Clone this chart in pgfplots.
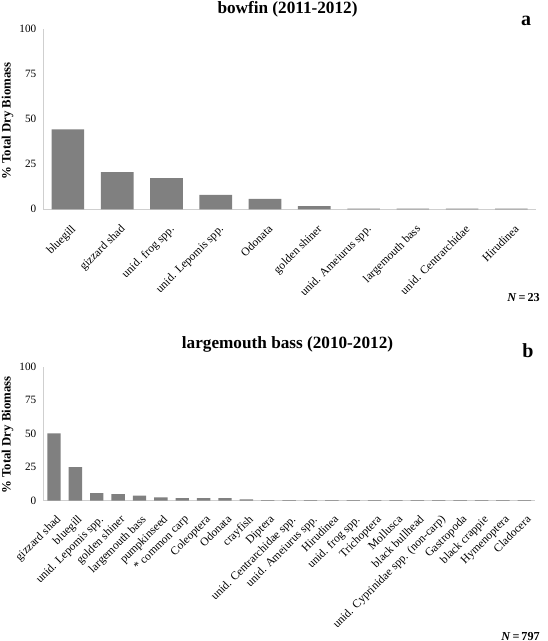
\documentclass[border=0pt]{standalone}
\usepackage{pgfplots}
\pgfplotsset{compat=1.18}
\usepackage{fontspec}
\setmainfont{Liberation Serif}
\definecolor{barg}{HTML}{808080}
\definecolor{axg}{HTML}{CFCFCF}
\pgfplotsset{
  mystyle/.style={
    scale only axis,
    axis x line=bottom, axis y line=left,
    axis line style={axg, line width=1pt, -},
    ymin=0, ymax=100, ytick={0,25,50,75,100},
    major tick length=0pt,
    xtick=data,
    ybar,
    /pgf/number format/assume math mode=true,
    yticklabel style={font=\fontsize{11.2}{12}\selectfont, xshift=-3.5pt},
    xticklabel style={font=\fontsize{11.6}{12}\selectfont, xshift=2.5pt, yshift=-14.5pt, rotate=45, anchor=north east, inner sep=0pt},
    ylabel={\bfseries\% Total Dry Biomass},
    every axis y label/.style={at={(axis description cs:-0.0725,0.49)}, rotate=90, anchor=center},
    ylabel style={font=\fontsize{12.8}{13}\selectfont},
    clip=false,
  }
}
\begin{document}
\begin{tikzpicture}[x=1pt,y=1pt]
\useasboundingbox (0pt,0pt) rectangle (548pt,641pt);
\begin{axis}[mystyle,
  at={(43.3pt,431.7pt)}, anchor=south west, width=492.7pt, height=180pt,
  xmin=-0.5, xmax=9.5, bar width=32.6pt,
  xticklabels={bluegill, gizzard shad, unid. frog spp., unid. Lepomis spp., Odonata, golden shiner, unid. Ameiurus spp., largemouth bass, unid. Centrarchidae, Hirudinea},
]
\addplot[fill=barg, draw=none] coordinates {(0,44.4) (1,20.7) (2,17.3) (3,8.0) (4,5.8) (5,1.7) (6,0.4) (7,0.4) (8,0.4) (9,0.4)};
\end{axis}
\node[font=\fontsize{17.2}{18}\selectfont\bfseries, anchor=base] at (287.5pt,627.5pt) {bowfin (2011-2012)};
\node[font=\fontsize{20}{20}\selectfont\bfseries, anchor=base] at (526pt,615pt) {a};
\node[font=\fontsize{12.2}{13}\selectfont\bfseries, anchor=base east, inner sep=0pt] at (540pt,339pt) {\textit{N}\,=\,23};
\begin{axis}[mystyle,
  at={(43.3pt,140.3pt)}, anchor=south west, width=491.7pt, height=134pt,
  xmin=-0.5, xmax=22.5, bar width=13.4pt,
  xticklabel style={yshift=1.5pt},
  xticklabels={gizzard shad, bluegill, unid. Lepomis spp., golden shiner, largemouth bass, pumpkinseed, * common carp, Coleoptera, Odonata, crayfish, Diptera, unid. Centrarchidae spp., unid. Ameiurus spp., Hirudinea, unid. frog spp., Trichoptera, Mollusca, black bullhead, unid. Cyprinidae spp. (non-carp), Gastropoda, black crappie, Hymenoptera, Cladocera},
]
\addplot[fill=barg, draw=none] coordinates {(0,50.2) (1,25.0) (2,5.7) (3,5.0) (4,3.7) (5,2.5) (6,2.0) (7,2.0) (8,2.0) (9,1.0) (10,0.5) (11,0.5) (12,0.5) (13,0.5) (14,0.5) (15,0.5) (16,0.5) (17,0.5) (18,0.5) (19,0.5) (20,0.5) (21,0.5) (22,0.5)};
\end{axis}
\node[font=\fontsize{17.2}{18}\selectfont\bfseries, anchor=base] at (287.5pt,292.7pt) {largemouth bass (2010-2012)};
\node[font=\fontsize{20}{20}\selectfont\bfseries, anchor=base] at (528pt,283pt) {b};
\node[font=\fontsize{12.2}{13}\selectfont\bfseries, anchor=base east, inner sep=0pt] at (540pt,1pt) {\textit{N}\,=\,797};
\end{tikzpicture}
\end{document}
